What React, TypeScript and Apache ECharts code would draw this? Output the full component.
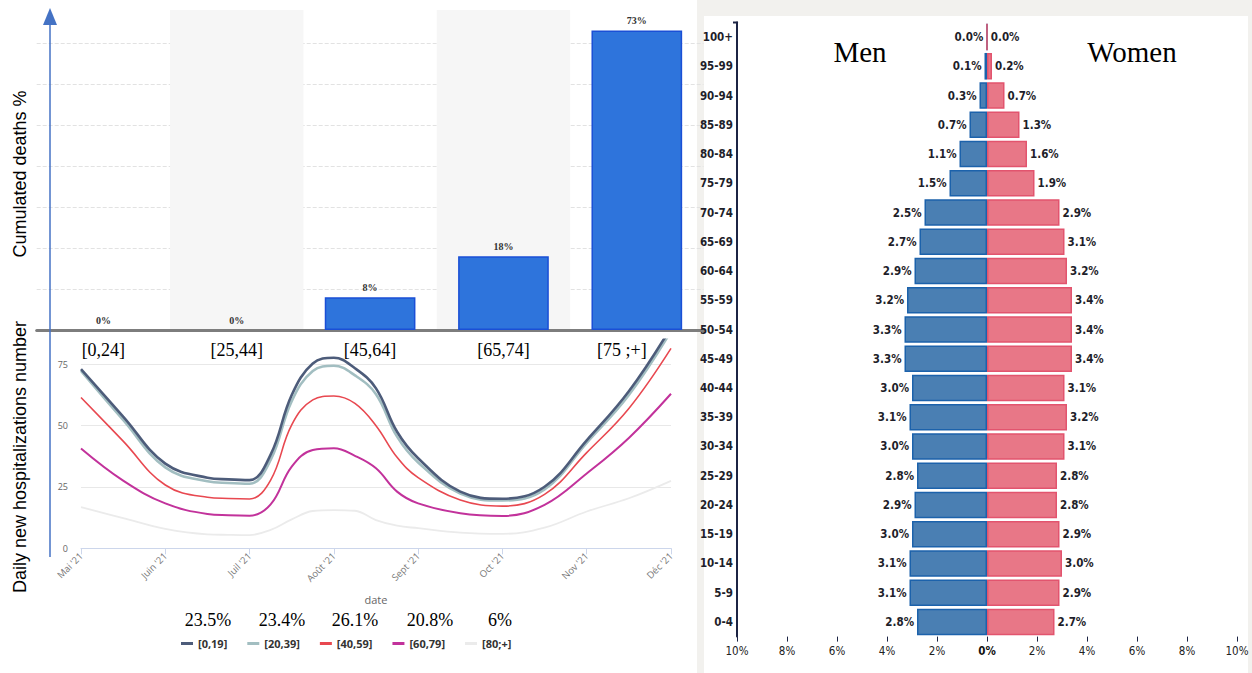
import React, { useEffect, useRef } from 'react';
import * as echarts from 'echarts';

// ---- Top-left: cumulated deaths by age group ----
const deathCategories = ['[0,24]', '[25,44]', '[45,64]', '[65,74]', '[75 ;+]'];
const deathShares = [0, 0, 8, 18, 73];

// ---- Bottom-left: daily new hospitalizations ----
const monthLabels = ["Mai '21", "Juin '21", "Juil '21", "Août '21", "Sept '21", "Oct '21", "Nov '21", "Déc '21"];
const sampleMonths = [0, 0.5, 1, 1.5, 1.75, 2, 2.25, 2.5, 2.75, 3, 3.25, 3.5, 3.75, 4, 4.5, 5, 5.5, 6, 6.5, 7];
const hospNames = ['[0,19]', '[20,39]', '[40,59]', '[60,79]', '[80;+]'];
const hosp0_19 = [73, 53.7, 34.5, 28.8, 28.1, 27.8, 38.2, 62.5, 75.3, 77.7, 73.4, 65.2, 47.5, 36.7, 23.1, 20.2, 25.1, 44, 64, 90];
const hosp20_39 = [72.3, 52.3, 33, 27.3, 26.6, 26.3, 36, 60, 72.3, 74.4, 70.5, 62.8, 45.5, 35, 22.3, 19.5, 24, 43, 62.5, 88.5];
const hosp40_59 = [61.5, 43.7, 25.8, 20.8, 20.3, 20.1, 27.8, 50.3, 60.5, 62.1, 59.1, 50, 37.1, 28.8, 19.7, 17.2, 22, 39, 57, 81.5];
const hosp60_79 = [40.7, 27.6, 18.3, 14, 13.5, 13.3, 17.9, 33.3, 40.1, 40.8, 37.7, 32.6, 23.1, 18.3, 14.3, 13.2, 17.7, 30.5, 45, 63];
const hosp80plus = [16.8, 12.3, 7.9, 5.7, 5.5, 5.4, 7.5, 11.8, 15.2, 15.6, 15.3, 11.5, 9.2, 8.2, 6.4, 5.9, 8.4, 15, 20.4, 27.5];
const hospSeries = [hosp0_19, hosp20_39, hosp40_59, hosp60_79, hosp80plus];
const hospShares = [23.5, 23.4, 26.1, 20.8, 6];

// ---- Right: population pyramid ----
const ageGroups = ['100+', '95-99', '90-94', '85-89', '80-84', '75-79', '70-74', '65-69', '60-64', '55-59', '50-54',
  '45-49', '40-44', '35-39', '30-34', '25-29', '20-24', '15-19', '10-14', '5-9', '0-4'];
const menShares = [0.0, 0.1, 0.3, 0.7, 1.1, 1.5, 2.5, 2.7, 2.9, 3.2, 3.3, 3.3, 3.0, 3.1, 3.0, 2.8, 2.9, 3.0, 3.1, 3.1, 2.8];
const womenShares = [0.0, 0.2, 0.7, 1.3, 1.6, 1.9, 2.9, 3.1, 3.2, 3.4, 3.4, 3.4, 3.1, 3.2, 3.1, 2.8, 2.8, 2.9, 3.0, 2.9, 2.7];

// ---- styles / layout ----
const serif = "'Liberation Serif', 'Times New Roman', serif";
const sans = "'Liberation Sans', Arial, sans-serif";
const cond = "'DejaVu Sans Condensed', 'Liberation Sans Narrow', 'DejaVu Sans', sans-serif";
const lineColors = ['#4d5c7a', '#a2bec1', '#e84850', '#c2329b', '#ebebeb'];
const lineWidths = [2.6, 2.6, 1.6, 2, 1.8];
const shareLabelX = [208, 282, 355, 430, 500];

function buildOption(): any {
  const lineSeries = hospSeries.map((vals, i) => ({
    name: hospNames[i],
    type: 'line',
    xAxisIndex: 1,
    yAxisIndex: 1,
    data: sampleMonths.map((m, j) => [m, vals[j]]),
    smooth: 0.4,
    symbol: 'none',
    lineStyle: { color: lineColors[i], width: lineWidths[i] },
    itemStyle: { color: lineColors[i] },
    z: 3 + (4 - i),
  }));

  const pyramidLabel = {
    show: true,
    distance: 3,
    fontFamily: cond,
    fontSize: 11.5,
    fontWeight: 'bold',
    color: '#1e1e2a',
    formatter: (p: any) => Math.abs(p.value).toFixed(1) + '%',
  };

  return {
    animation: false,
    backgroundColor: '#ffffff',
    grid: [
      { left: 36.7, right: 548.5, top: 10, bottom: 343 },
      { left: 81, right: 581, top: 339.8, bottom: 124.7 },
      { left: 737, right: 15, top: 22.4, bottom: 36.4 },
    ],
    xAxis: [
      {
        type: 'category',
        gridIndex: 0,
        data: deathCategories.map((c, i) =>
          i === deathCategories.length - 1 ? { value: c, textStyle: { padding: [0, 30, 0, 0] } } : c
        ),
        axisLine: { lineStyle: { color: '#7d7d7d', width: 3 } },
        axisTick: { show: false },
        axisLabel: { margin: 11, fontFamily: serif, fontSize: 18, color: '#000' },
        splitArea: { show: true, areaStyle: { color: ['rgba(255,255,255,0)', '#f6f6f6'] } },
      },
      {
        type: 'value',
        gridIndex: 1,
        min: 0,
        max: 7,
        interval: 1,
        axisLine: { lineStyle: { color: '#ccd6eb', width: 1 } },
        axisTick: { show: true, length: 6, lineStyle: { color: '#ccd6eb' } },
        axisLabel: {
          rotate: 45,
          margin: 6,
          fontSize: 9.5,
          color: '#777',
          fontFamily: "'Open Sans', sans-serif",
          formatter: (v: number) => monthLabels[Math.round(v)] ?? '',
        },
        splitLine: { show: false },
        name: 'date',
        nameLocation: 'middle',
        nameGap: 46,
        nameTextStyle: { color: '#666', fontSize: 11, fontFamily: "'Open Sans', sans-serif" },
      },
      {
        type: 'value',
        gridIndex: 2,
        min: -10,
        max: 10,
        interval: 2,
        axisLine: { lineStyle: { color: '#1c2444', width: 2 } },
        axisTick: { show: true, length: 5, lineStyle: { color: '#1c2444' } },
        axisLabel: {
          margin: 8,
          fontFamily: cond,
          fontSize: 11.5,
          color: '#222',
          formatter: (v: number) => (v === 0 ? '{b|0%}' : Math.abs(v) + '%'),
          rich: { b: { fontFamily: cond, fontSize: 11.5, fontWeight: 'bold', color: '#111' } },
        },
        splitLine: { show: false },
      },
    ],
    yAxis: [
      {
        type: 'value',
        gridIndex: 0,
        min: 0,
        max: 78,
        interval: 10,
        axisLabel: { show: false },
        axisLine: { show: false },
        axisTick: { show: false },
        splitLine: { show: true, showMaxLine: false, lineStyle: { color: '#e2e2e2', type: 'dashed' } },
      },
      {
        type: 'value',
        gridIndex: 1,
        min: 0,
        max: 85,
        interval: 25,
        axisLine: { show: false },
        axisTick: { show: false },
        axisLabel: {
          showMaxLabel: false,
          margin: 13,
          fontSize: 9,
          color: '#666',
          fontFamily: "'Open Sans', sans-serif",
          formatter: (v: number) => (v % 25 === 0 ? String(v) : ''),
        },
        splitLine: { show: true, showMaxLine: false, lineStyle: { color: '#e8e8e8' } },
      },
      {
        type: 'category',
        gridIndex: 2,
        data: ageGroups,
        inverse: true,
        axisLine: { onZero: false, lineStyle: { color: '#1c2444', width: 2 } },
        axisTick: { show: false },
        axisLabel: { margin: 4, fontFamily: cond, fontSize: 11.5, fontWeight: 'bold', color: '#1e1e2a' },
      },
    ],
    legend: {
      data: hospNames,
      left: 176,
      top: 633,
      icon: 'rect',
      itemWidth: 12,
      itemHeight: 3,
      itemGap: 20,
      textStyle: { fontSize: 11, color: '#333', fontWeight: 'bold', fontFamily: "'Open Sans', sans-serif" },
    },
    series: [
      {
        name: 'Cumulated deaths',
        type: 'bar',
        xAxisIndex: 0,
        yAxisIndex: 0,
        data: deathShares.map((v) => (v === 0 ? { value: v, itemStyle: { borderWidth: 0 } } : v)),
        barCategoryGap: '32%',
        itemStyle: { color: '#2e74dc', borderColor: '#1a4fd6', borderWidth: 1.5 },
        label: {
          show: true,
          position: 'top',
          distance: 5,
          formatter: '{c}%',
          fontFamily: serif,
          fontWeight: 'bold',
          fontSize: 10,
          color: '#333',
        },
      },
      ...lineSeries,
      {
        name: 'Men',
        type: 'bar',
        xAxisIndex: 2,
        yAxisIndex: 2,
        stack: 'pyramid',
        data: menShares.map((v) => -v),
        barCategoryGap: '9%',
        itemStyle: { color: '#4a7fb3', borderColor: '#1c62ab', borderWidth: 1.5 },
        label: { ...pyramidLabel, position: 'left' },
      },
      {
        name: 'Women',
        type: 'bar',
        xAxisIndex: 2,
        yAxisIndex: 2,
        stack: 'pyramid',
        data: womenShares,
        barCategoryGap: '9%',
        itemStyle: { color: '#e87787', borderColor: '#e2546e', borderWidth: 1.5 },
        label: { ...pyramidLabel, position: 'right' },
      },
    ],
    graphic: [
      { type: 'rect', z: -10, shape: { x: 697, y: 0, width: 555, height: 673 }, style: { fill: '#f2f1ee' } },
      { type: 'rect', z: -9, shape: { x: 704, y: 16, width: 544, height: 657 }, style: { fill: '#ffffff' } },
      { type: 'line', z: 20, shape: { x1: 733, y1: 22.5, x2: 738, y2: 22.5 }, style: { stroke: '#1c2444', lineWidth: 2 } },
      { type: 'line', z: 20, shape: { x1: 50, y1: 557, x2: 50, y2: 20 }, style: { stroke: '#4472c4', lineWidth: 1.5 } },
      { type: 'polygon', z: 20, shape: { points: [[50, 8], [43, 25], [57, 25]] }, style: { fill: '#4472c4' } },
      {
        type: 'text', z: 20, x: 20, y: 174, rotation: Math.PI / 2,
        style: { text: 'Cumulated deaths %', fontFamily: sans, fontSize: 18, fill: '#000', align: 'center', verticalAlign: 'middle' },
      },
      {
        type: 'text', z: 20, x: 20, y: 457, rotation: Math.PI / 2,
        style: { text: 'Daily new hospitalizations number', fontFamily: sans, fontSize: 18, fill: '#000', align: 'center', verticalAlign: 'middle' },
      },
      {
        type: 'text', z: 20, x: 860, y: 52,
        style: { text: 'Men', fontFamily: serif, fontSize: 29, fill: '#000', align: 'center', verticalAlign: 'middle' },
      },
      {
        type: 'text', z: 20, x: 1132, y: 52,
        style: { text: 'Women', fontFamily: serif, fontSize: 29, fill: '#000', align: 'center', verticalAlign: 'middle' },
      },
      ...hospShares.map((s, i) => ({
        type: 'text', z: 20, x: shareLabelX[i], y: 620,
        style: { text: s + '%', fontFamily: serif, fontSize: 18, fill: '#000', align: 'center', verticalAlign: 'middle' },
      })),
    ],
  };
}

export default function App() {
  const ref = useRef<HTMLDivElement>(null);
  useEffect(() => {
    document.body.style.margin = '0';
    const chart = echarts.init(ref.current!, null, { renderer: 'svg' });
    chart.setOption(buildOption());
    return () => chart.dispose();
  }, []);
  return <div ref={ref} style={{ width: 1252, height: 673 }} />;
}
